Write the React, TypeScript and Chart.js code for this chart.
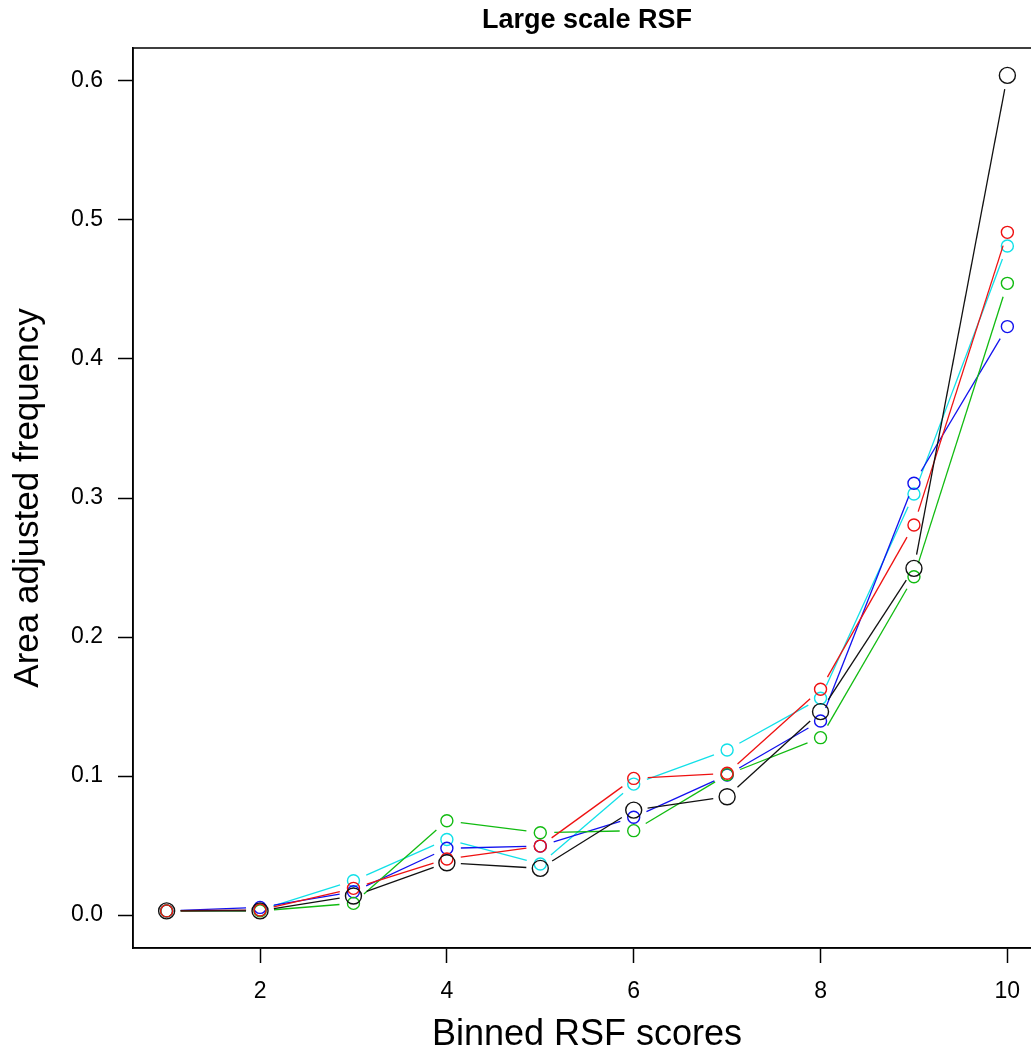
import React, { useEffect, useRef } from "react";
import { Chart, registerables } from "chart.js";

Chart.register(...registerables);

const bins = [1, 2, 3, 4, 5, 6, 7, 8, 9, 10];
const blackSeries = [0.003, 0.003, 0.0137, 0.0376, 0.0336, 0.0755, 0.0851, 0.1463, 0.2494, 0.604];
const redSeries = [0.003, 0.0036, 0.0192, 0.0403, 0.0496, 0.0983, 0.102, 0.1624, 0.2806, 0.4911];
const greenSeries = [0.003, 0.003, 0.0084, 0.0678, 0.0592, 0.0607, 0.101, 0.1276, 0.2434, 0.4544];
const blueSeries = [0.003, 0.0055, 0.0168, 0.048, 0.0496, 0.0703, 0.1007, 0.1396, 0.3106, 0.4233];
const cyanSeries = [0.003, 0.0036, 0.0247, 0.0544, 0.0367, 0.0942, 0.1187, 0.1559, 0.3029, 0.4813];
const xTicks = [2, 4, 6, 8, 10];
const yTicks = [0, 0.1, 0.2, 0.3, 0.4, 0.5, 0.6];

const FONT = "'Liberation Sans', Arial, sans-serif";
const GAP = 14;

const boxPlugin = {
  id: "boxPlugin",
  afterDraw(chart: any) {
    const { ctx, chartArea } = chart;
    ctx.save();
    ctx.strokeStyle = "#000";
    ctx.lineWidth = 1.5;
    ctx.strokeRect(chartArea.left, chartArea.top, chartArea.right - chartArea.left, chartArea.bottom - chartArea.top);
    ctx.restore();
  },
};

function gapDash(c: any) {
  const L = Math.hypot(c.p1.x - c.p0.x, c.p1.y - c.p0.y);
  if (L <= 2 * GAP) return [0, L + 3000 + c.p0DataIndex];
  return [0, GAP, L - 2 * GAP, GAP + 3000 + c.p0DataIndex];
}

function mk(label: string, values: number[], color: string, radius: number) {
  return {
    label,
    data: bins.map((b, i) => ({ x: b, y: values[i] })),
    borderColor: color,
    borderWidth: 1.3,
    pointRadius: radius,
    pointBorderColor: color,
    pointBackgroundColor: "rgba(0,0,0,0)",
    pointBorderWidth: 1.4,
    pointStyle: "circle",
    tension: 0,
    fill: false,
    borderCapStyle: "butt",
    segment: { borderDash: gapDash },
  };
}

export default function App() {
  const ref = useRef<HTMLCanvasElement>(null);
  useEffect(() => {
    if (!ref.current) return;
    const chart = new Chart(ref.current, {
      type: "line",
      data: {
        datasets: [
          mk("black", blackSeries, "#111111", 8),
          mk("red", redSeries, "#ee1111", 6),
          mk("green", greenSeries, "#11bb11", 6),
          mk("blue", blueSeries, "#1111ee", 6),
          mk("cyan", cyanSeries, "#11e0e8", 6),
        ] as any,
      },
      plugins: [boxPlugin],
      options: {
        animation: false,
        responsive: false,
        devicePixelRatio: 1,
        layout: { padding: { left: 0, top: 0, right: 19, bottom: 0 } },
        plugins: {
          legend: { display: false },
          tooltip: { enabled: false },
          title: {
            display: true,
            text: "Large scale RSF",
            fullSize: false,
            color: "#000",
            font: { family: FONT, size: 27, weight: "bold", lineHeight: 1.2 },
            padding: { top: 4.8, bottom: 10.8 },
          },
        },
        scales: {
          x: {
            type: "linear",
            min: 0.64,
            max: 10.36,
            afterBuildTicks: (s: any) => {
              s.ticks = xTicks.map((v) => ({ value: v }));
            },
            afterFit: (s: any) => {
              s.height = 113;
            },
            ticks: {
              color: "#000",
              font: { family: FONT, size: 23 },
              padding: 15,
              maxRotation: 0,
              autoSkip: false,
              callback: (v: any) => String(v),
            },
            grid: { drawOnChartArea: false, tickLength: 15, color: "#000", tickWidth: 1.5 },
            border: { display: true, color: "#000", width: 1.5 },
            title: {
              display: true,
              text: "Binned RSF scores",
              color: "#000",
              font: { family: FONT, size: 36, lineHeight: 1.2 },
              padding: { top: 0, bottom: 4.5 },
            },
          },
          y: {
            type: "linear",
            min: -0.0237,
            max: 0.6237,
            afterBuildTicks: (s: any) => {
              s.ticks = yTicks.map((v) => ({ value: v }));
            },
            afterFit: (s: any) => {
              s.width = 133;
            },
            ticks: {
              color: "#000",
              font: { family: FONT, size: 23 },
              padding: 15,
              autoSkip: false,
              callback: (v: any) => Number(v).toFixed(1),
            },
            grid: { drawOnChartArea: false, tickLength: 15, color: "#000", tickWidth: 1.5 },
            border: { display: true, color: "#000", width: 1.5 },
            title: {
              display: true,
              text: "Area adjusted frequency",
              color: "#000",
              font: { family: FONT, size: 35, lineHeight: 1.2 },
              padding: { top: 7, bottom: 0 },
            },
          },
        },
      } as any,
    });
    return () => chart.destroy();
  }, []);
  return (
    <div
      style={{
        position: "fixed",
        left: 0,
        top: 0,
        width: 1031,
        height: 1061,
        overflow: "hidden",
        background: "#fff",
      }}
    >
      <canvas ref={ref} width={1060} height={1061} style={{ display: "block", width: 1060, height: 1061 }} />
    </div>
  );
}
